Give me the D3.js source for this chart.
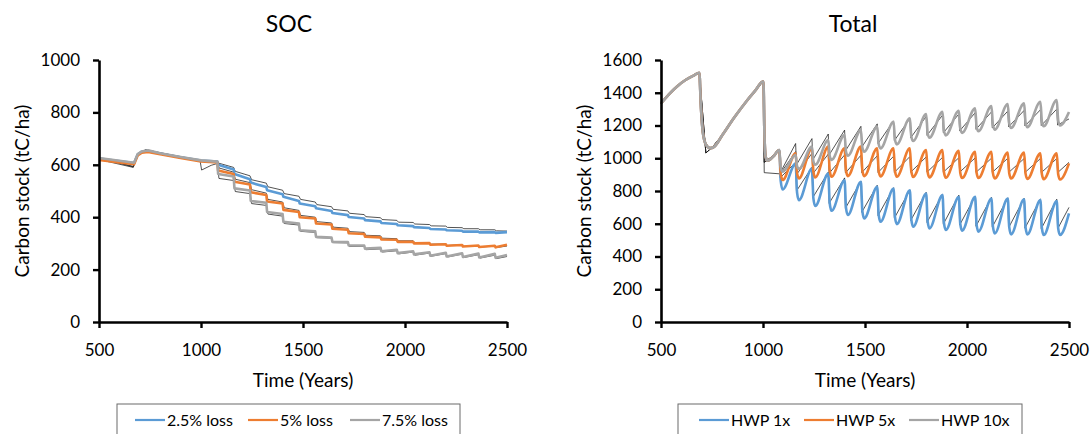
<!DOCTYPE html>
<html><head><meta charset="utf-8">
<script src="https://cdn.jsdelivr.net/npm/d3@7"></script>
<style>
body{margin:0;background:#fff}
svg{display:block}
text{font-family:Lato,"Open Sans",sans-serif;fill:#000}
</style>
</head><body>
<svg id="chart" width="1092" height="434"></svg>
<script>
// ---------- shared axis data ----------
const xTicks = [500, 1000, 1500, 2000, 2500];
const socTicks = [0, 200, 400, 600, 800, 1000];
const totTicks = [0, 200, 400, 600, 800, 1000, 1200, 1400, 1600];
const socLegend = ["2.5% loss", "5% loss", "7.5% loss"];
const totLegend = ["HWP 1x", "HWP 5x", "HWP 10x"];
const seriesColors = ["#5B9BD5", "#ED7D31", "#A5A5A5"];

// ---------- SOC panel ----------
const socYears = [500, 672, 690, 710, 740, 800, 900, 1000,
  1080, 1084, 1160, 1164, 1240, 1244, 1320, 1324, 1400, 1404, 1480, 1484, 1560, 1564,
  1640, 1644, 1720, 1724, 1800, 1804, 1880, 1884, 1960, 1964, 2040, 2044, 2120, 2124,
  2200, 2204, 2280, 2284, 2360, 2364, 2440, 2444, 2500];
const socBlue = [624, 607, 640, 650, 653, 643, 629, 616,
  612, 600, 582, 565, 545, 532, 515, 503, 488, 478, 462, 452, 442, 434,
  424, 416, 408, 401, 395, 389, 384, 378, 374, 369, 366, 362, 359, 355,
  353, 350, 348, 345, 345, 342, 343, 340, 343];
const socOrange = [618, 602, 636, 646, 649, 640, 626, 613,
  609, 578, 565, 535, 525, 495, 485, 460, 452, 428, 420, 400, 395, 376,
  372, 356, 352, 339, 336, 326, 323, 315, 314, 306, 306, 300, 301, 295,
  297, 291, 294, 288, 292, 286, 291, 285, 295];
const socGray = [626, 608, 641, 651, 655, 644, 630, 617,
  612, 565, 555, 510, 502, 462, 455, 420, 412, 382, 376, 350, 346, 325,
  322, 306, 305, 292, 292, 280, 283, 270, 276, 263, 270, 258, 266, 253,
  264, 250, 262, 248, 261, 246, 260, 245, 256];

const socBlackYears = [500, 668, 674, 690, 730, 800, 900, 995, 1003, 1050,
  1080, 1088, 1160, 1168, 1240, 1248, 1320, 1328, 1400, 1408, 1480, 1488, 1560, 1568,
  1640, 1648, 1720, 1728, 1800, 1808, 1880, 1888, 1960, 1968, 2040, 2048, 2120, 2128,
  2200, 2208, 2280, 2288, 2360, 2368, 2440, 2448, 2500];
const socBlackBlue = [626, 592, 605, 642, 657, 645, 630, 618, 617, 615,
  614, 606, 590, 575, 558, 543, 530, 516, 503, 490, 480, 468, 458, 448,
  440, 430, 424, 415, 410, 402, 398, 391, 388, 381, 380, 374, 372, 367,
  366, 361, 360, 356, 356, 352, 352, 348, 347];
const socBlackOrange = [620, 590, 603, 638, 652, 641, 627, 614, 613, 612,
  611, 588, 572, 545, 532, 505, 492, 468, 458, 436, 426, 407, 400, 383,
  378, 362, 358, 345, 342, 331, 329, 320, 318, 310, 310, 303, 303, 297,
  298, 292, 295, 289, 292, 286, 290, 284, 290];
const socBlackGray = [627, 594, 606, 643, 658, 646, 631, 618, 580, 598,
  605, 548, 540, 498, 490, 452, 445, 412, 404, 376, 370, 346, 342, 322,
  320, 303, 302, 288, 289, 276, 279, 267, 272, 260, 267, 255, 263, 251,
  261, 248, 259, 246, 257, 244, 255, 242, 250];

// ---------- Total panel ----------
const totYears = [500, 540, 580, 620, 660, 688, 695, 705, 720, 740, 760, 800, 860, 920, 960, 1002, 1007, 1013, 1022, 1050,
  1080, 1087, 1096, 1160, 1167, 1176, 1240, 1247, 1256, 1320, 1327, 1336, 1400, 1407, 1416,
  1480, 1487, 1496, 1560, 1567, 1576, 1640, 1647, 1656, 1720, 1727, 1736, 1800, 1807, 1816,
  1880, 1887, 1896, 1960, 1967, 1976, 2040, 2047, 2056, 2120, 2127, 2136, 2200, 2207, 2216,
  2280, 2287, 2296, 2360, 2367, 2376, 2440, 2447, 2456, 2500];
const totBlue = [1335, 1392, 1440, 1478, 1505, 1522, 1330, 1160, 1085, 1062, 1070, 1140, 1250, 1350, 1410, 1470, 1150, 1010, 985, 1010,
  1050, 860, 809, 967, 790, 744, 937, 755, 708, 906, 725, 679, 866, 695, 653,
  856, 678, 633, 825, 655, 612, 815, 640, 598, 805, 627, 582, 785, 615, 572,
  775, 605, 562, 765, 600, 558, 765, 595, 552, 754, 584, 541, 754, 579, 535,
  750, 578, 535, 744, 574, 531, 738, 572, 531, 663];
const totOrange = [1335, 1392, 1440, 1478, 1505, 1522, 1330, 1160, 1085, 1062, 1070, 1140, 1250, 1350, 1410, 1470, 1150, 1010, 985, 1010,
  1050, 905, 867, 1030, 908, 877, 1061, 918, 883, 1071, 924, 887, 1061, 925, 891,
  1071, 927, 891, 1061, 923, 889, 1061, 922, 887, 1061, 921, 886, 1050, 916, 883,
  1050, 915, 881, 1045, 912, 879, 1040, 911, 879, 1040, 909, 876, 1035, 908, 876,
  1035, 906, 874, 1030, 904, 872, 1030, 902, 870, 969];
const totGray = [1335, 1392, 1440, 1478, 1505, 1522, 1330, 1160, 1085, 1062, 1070, 1140, 1250, 1350, 1410, 1470, 1150, 1010, 985, 1010,
  1050, 945, 918, 1020, 952, 935, 1071, 982, 960, 1111, 1014, 990, 1142, 1040, 1015,
  1172, 1066, 1040, 1193, 1087, 1060, 1223, 1113, 1085, 1244, 1133, 1105, 1270, 1154, 1125,
  1284, 1169, 1140, 1290, 1182, 1155, 1305, 1193, 1165, 1319, 1204, 1175, 1331, 1214, 1185,
  1335, 1219, 1190, 1345, 1225, 1195, 1356, 1231, 1200, 1282];

const totBlackYears = [500, 540, 580, 620, 660, 688, 720, 750, 800, 860, 920, 960, 1002, 1006, 1080, 1084,
  1160, 1164, 1240, 1244, 1320, 1324, 1400, 1404, 1480, 1484, 1560, 1564, 1640, 1644,
  1720, 1724, 1800, 1804, 1880, 1884, 1960, 1964, 2040, 2044, 2120, 2124, 2200, 2204,
  2280, 2284, 2360, 2364, 2440, 2444, 2500];
const totBlack1 = [1335, 1392, 1440, 1478, 1505, 1522, 1032, 1066, 1140, 1250, 1350, 1410, 1470, 975, 1045, 880,
  975, 800, 945, 760, 915, 725, 880, 695, 860, 670, 835, 650, 820, 635,
  805, 620, 792, 608, 782, 598, 775, 592, 768, 585, 762, 580, 758, 576,
  755, 573, 752, 570, 750, 568, 700];
const totBlack5 = [1335, 1392, 1440, 1478, 1505, 1522, 1032, 1066, 1140, 1250, 1350, 1410, 1470, 975, 1045, 905,
  1040, 900, 1030, 905, 1025, 908, 1020, 910, 1018, 912, 1015, 913, 1012, 914,
  1010, 915, 1008, 915, 1005, 915, 1003, 915, 1002, 914, 1000, 914, 1000, 913,
  998, 913, 998, 912, 998, 912, 975];
const totBlack10 = [1335, 1392, 1440, 1478, 1505, 1522, 1032, 1066, 1140, 1250, 1350, 1410, 1470, 912, 905, 910,
  1090, 960, 1120, 990, 1148, 1020, 1172, 1045, 1195, 1068, 1210, 1090, 1228, 1108,
  1242, 1125, 1255, 1140, 1263, 1155, 1270, 1167, 1278, 1177, 1283, 1185, 1288, 1192,
  1292, 1197, 1296, 1200, 1300, 1203, 1240];

// ---------- drawing ----------
const svg = d3.select("#chart");
const zip = (xs, ys) => xs.map((v, i) => [v, ys[i]]);

function drawPanel(cfg) {
  const top = 60, bottom = 322;
  const x = d3.scaleLinear().domain([500, 2500]).range([cfg.left, cfg.right]);
  const y = d3.scaleLinear().domain([0, cfg.yMax]).range([bottom, top]);
  const g = svg.append("g");

  // title
  g.append("text").attr("x", cfg.titleX).attr("y", 32).attr("text-anchor", "middle")
    .style("font-size", "23px").text(cfg.title);

  // black comparison lines (underneath)
  const bline = d3.line().x(d => x(d[0])).y(d => y(d[1]));
  cfg.black.forEach(vals => {
    g.append("path").datum(zip(cfg.blackYears, vals)).attr("d", bline)
      .attr("fill", "none").attr("stroke", "#1a1a1a").attr("stroke-width", 0.75);
  });

  // series lines
  const line = d3.line().x(d => x(d[0])).y(d => y(d[1])).curve(cfg.curve);
  cfg.series.forEach((vals, i) => {
    g.append("path").datum(zip(cfg.years, vals)).attr("d", line)
      .attr("fill", "none").attr("stroke", seriesColors[i]).attr("stroke-width", 2.6)
      .attr("stroke-linejoin", "round");
  });

  // axes
  const ya = g.append("g").attr("transform", `translate(${cfg.left},0)`)
    .call(d3.axisLeft(y).tickValues(cfg.yTicks).tickSize(6).tickSizeOuter(0).tickPadding(13).tickFormat(d3.format("d")));
  const xa = g.append("g").attr("transform", `translate(0,${bottom})`)
    .call(d3.axisBottom(x).tickValues(xTicks).tickSize(6).tickSizeOuter(0).tickPadding(16).tickFormat(d3.format("d")));
  [ya, xa].forEach(a => {
    a.select(".domain").attr("stroke", "#000").attr("stroke-width", 2.6);
    a.selectAll(".tick line").attr("stroke", "#000").attr("stroke-width", 2.4);
    a.selectAll(".tick text").attr("font-family", "Lato, 'Open Sans', sans-serif").attr("font-size", 17).attr("fill", "#000");
  });

  // axis titles
  const cx = (cfg.left + cfg.right) / 2;
  g.append("text").attr("x", cx).attr("y", 387).attr("text-anchor", "middle")
    .style("font-size", "19px").text("Time (Years)");
  g.append("text").attr("transform", `translate(${cfg.yTitleX},${(top + bottom) / 2}) rotate(-90)`)
    .attr("text-anchor", "middle").style("font-size", "19px").text("Carbon stock (tC/ha)");

  // legend
  const lg = g.append("g");
  lg.append("rect").attr("x", cfg.legend.x).attr("y", 404).attr("width", cfg.legend.w).attr("height", 40)
    .attr("fill", "#fff").attr("stroke", "#6b6b6b").attr("stroke-width", 1);
  cfg.legend.items.forEach((lx, i) => {
    lg.append("line").attr("x1", lx).attr("x2", lx + 30).attr("y1", 420).attr("y2", 420)
      .attr("stroke", seriesColors[i]).attr("stroke-width", 2.2);
    lg.append("text").attr("x", lx + 32).attr("y", 426).style("font-size", "16px").text(cfg.labels[i]);
  });
}

drawPanel({
  left: 99, right: 507, yMax: 1000, yTicks: socTicks, title: "SOC", titleX: 289, yTitleX: 29,
  years: socYears, series: [socBlue, socOrange, socGray], curve: d3.curveLinear,
  blackYears: socBlackYears, black: [socBlackBlue, socBlackOrange, socBlackGray],
  legend: { x: 117, w: 343, items: [135, 248, 350] }, labels: socLegend
});
drawPanel({
  left: 661, right: 1069, yMax: 1600, yTicks: totTicks, title: "Total", titleX: 853, yTitleX: 591,
  years: totYears, series: [totBlue, totOrange, totGray], curve: d3.curveMonotoneX,
  blackYears: totBlackYears, black: [totBlack1, totBlack5, totBlack10],
  legend: { x: 678, w: 344, items: [699, 804, 909] }, labels: totLegend
});
</script>
</body></html>
